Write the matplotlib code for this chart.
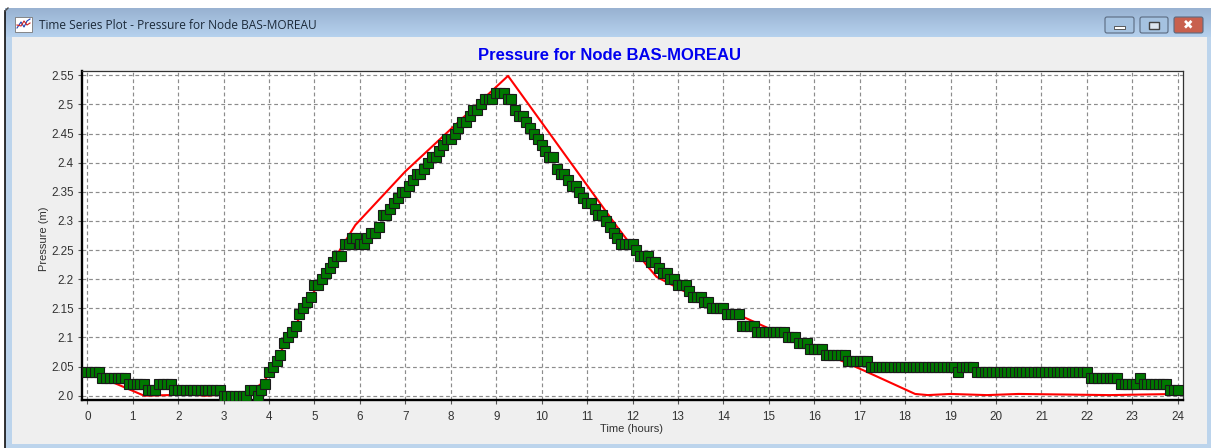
import numpy as np
import matplotlib
matplotlib.use("Agg")
import matplotlib.pyplot as plt
from matplotlib.patches import Rectangle, FancyBboxPatch

# simulated pressure, one row per hour, 5 minute steps
simulated = [
    2.04, 2.04, 2.04, 2.04, 2.03, 2.03, 2.03, 2.03, 2.03, 2.03, 2.03, 2.02,
    2.02, 2.02, 2.02, 2.02, 2.01, 2.01, 2.01, 2.02, 2.02, 2.02, 2.02, 2.01,
    2.01, 2.01, 2.01, 2.01, 2.01, 2.01, 2.01, 2.01, 2.01, 2.01, 2.01, 2.01,
    2.00, 2.00, 2.00, 2.00, 2.00, 2.00, 2.00, 2.01, 2.01, 2.00, 2.01, 2.02,
    2.04, 2.05, 2.06, 2.07, 2.09, 2.10, 2.11, 2.12, 2.14, 2.15, 2.16, 2.17,
    2.19, 2.19, 2.20, 2.21, 2.22, 2.23, 2.24, 2.24, 2.26, 2.26, 2.27, 2.27,
    2.26, 2.26, 2.27, 2.28, 2.28, 2.29, 2.31, 2.31, 2.32, 2.33, 2.34, 2.35,
    2.35, 2.36, 2.37, 2.38, 2.38, 2.39, 2.40, 2.41, 2.41, 2.42, 2.43, 2.44,
    2.44, 2.45, 2.46, 2.47, 2.47, 2.48, 2.49, 2.49, 2.50, 2.51, 2.51, 2.51,
    2.52, 2.52, 2.52, 2.51, 2.51, 2.49, 2.48, 2.48, 2.47, 2.46, 2.45, 2.44,
    2.43, 2.42, 2.41, 2.41, 2.39, 2.38, 2.38, 2.37, 2.36, 2.36, 2.35, 2.34,
    2.33, 2.33, 2.32, 2.31, 2.31, 2.30, 2.29, 2.28, 2.27, 2.26, 2.26, 2.26,
    2.26, 2.25, 2.24, 2.24, 2.24, 2.23, 2.23, 2.22, 2.21, 2.21, 2.20, 2.20,
    2.19, 2.19, 2.19, 2.18, 2.17, 2.17, 2.17, 2.16, 2.16, 2.15, 2.15, 2.15,
    2.15, 2.14, 2.14, 2.14, 2.14, 2.12, 2.12, 2.12, 2.12, 2.11, 2.11, 2.11,
    2.11, 2.11, 2.11, 2.11, 2.11, 2.10, 2.10, 2.10, 2.09, 2.09, 2.09, 2.08,
    2.08, 2.08, 2.08, 2.07, 2.07, 2.07, 2.07, 2.07, 2.07, 2.06, 2.06, 2.06,
    2.06, 2.06, 2.06, 2.05, 2.05, 2.05, 2.05, 2.05, 2.05, 2.05, 2.05, 2.05,
    2.05, 2.05, 2.05, 2.05, 2.05, 2.05, 2.05, 2.05, 2.05, 2.05, 2.05, 2.05,
    2.05, 2.05, 2.04, 2.05, 2.05, 2.05, 2.05, 2.04, 2.04, 2.04, 2.04, 2.04,
    2.04, 2.04, 2.04, 2.04, 2.04, 2.04, 2.04, 2.04, 2.04, 2.04, 2.04, 2.04,
    2.04, 2.04, 2.04, 2.04, 2.04, 2.04, 2.04, 2.04, 2.04, 2.04, 2.04, 2.04,
    2.04, 2.03, 2.03, 2.03, 2.03, 2.03, 2.03, 2.03, 2.03, 2.02, 2.02, 2.02,
    2.02, 2.02, 2.03, 2.02, 2.02, 2.02, 2.02, 2.02, 2.02, 2.02, 2.01, 2.01,
    2.01,
]
sim_hours = np.arange(len(simulated)) / 12

# observed pressure (red line)
obs_hours = [0, 0.5, 1.25, 2.3, 2.6, 3.0, 3.5, 3.9, 5.0, 5.9, 7.0, 9.26, 11.66, 12.3, 12.53,
             12.9, 13.5, 14.5, 14.87, 16.57, 17.07, 18.22, 18.5, 19.0, 19.8, 20.5, 22.5, 24]
obs_pressure = [2.04, 2.025, 2.0, 2.002, 2.0, 2.002, 2.0, 2.025, 2.18, 2.293, 2.385, 2.549, 2.29, 2.225, 2.204,
                2.189, 2.165, 2.133, 2.12, 2.061, 2.044, 2.003, 2.001, 2.003, 2.001, 2.003, 2.001, 2.003]

x_ticks = list(range(25))
y_ticks = [2.0, 2.05, 2.1, 2.15, 2.2, 2.25, 2.3, 2.35, 2.4, 2.45, 2.5, 2.55]
y_tick_labels = ['2.0', '2.05', '2.1', '2.15', '2.2', '2.25', '2.3', '2.35', '2.4', '2.45', '2.5', '2.55']

plt.rcParams['font.family'] = ['Liberation Sans', 'DejaVu Sans']

W, H = 1211, 448
fig = plt.figure(figsize=(W / 100, H / 100), dpi=100, facecolor='white')

# window frame, in pixel coordinates
bg = fig.add_axes([0, 0, 1, 1])
bg.set_xlim(0, W)
bg.set_ylim(H, 0)
bg.axis('off')

grad = np.linspace(0, 1, 30)[:, None, None]
top = np.array([0.60, 0.70, 0.82])
bottom = np.array([0.71, 0.82, 0.93])
bar = top + (bottom - top) * grad
bg.imshow(bar, extent=(5, 1211, 37, 8), aspect='auto', zorder=1)
bg.set_xlim(0, W)
bg.set_ylim(H, 0)
bg.add_patch(Rectangle((5, 37), 1206, 411, fc='#BCD4EC', ec='none', zorder=1))
bg.add_patch(Rectangle((12, 37), 1195, 407, fc='#EFEFEF', ec='none', zorder=2))
bg.plot([5, 5], [11, 448], color='#101010', lw=1.2, zorder=3)
bg.plot([5, 8], [11, 8], color='#505050', lw=1, zorder=3)

# title bar icon
bg.add_patch(Rectangle((15, 17), 17, 15, fc='white', ec='#777777', lw=0.6, zorder=3))
bg.plot([17, 21, 24, 27, 30], [28, 22, 27, 21, 19], color='#2040b0', lw=0.8, zorder=4)
bg.plot([17, 21, 24, 27, 30], [25, 26, 21, 25, 23], color='#d02020', lw=0.8, zorder=4)
bg.text(39, 25.5, 'Time Series Plot - Pressure for Node BAS-MOREAU', fontsize=8.6, color='#1c2a3a',
        family='Open Sans', ha='left', va='center', zorder=4)

# window buttons
for x0, x1, col in [(1104, 1135, '#A5C2E0'), (1139, 1169, '#A5C2E0'), (1173, 1204, '#C8604E')]:
    bg.add_patch(FancyBboxPatch((x0 + 1, 17), x1 - x0 - 2, 16, boxstyle='round,pad=0,rounding_size=2',
                                fc=col, ec='#5a6a80', lw=0.8, zorder=3))
bg.add_patch(Rectangle((1114, 26.5), 11, 3, fc='white', ec='#444444', lw=0.6, zorder=4))
bg.add_patch(Rectangle((1149, 22), 10, 7, fc='#dde6f0', ec='#444444', lw=1.0, zorder=4))
bg.text(1188.5, 25, '\u2716', fontsize=9, color='white', family='DejaVu Sans', ha='center', va='center', zorder=4)

bg.text(610, 55, 'Pressure for Node BAS-MOREAU', fontsize=12, fontweight='bold', color='#0000F0',
        ha='center', va='center', zorder=4)

# plot area
ax = fig.add_axes([82 / W, 1 - 400 / H, (1183 - 82) / W, (400 - 71) / H], facecolor='white')
ax.plot(obs_hours, obs_pressure, color='#FF0000', lw=1.5, zorder=3)
ax.plot(sim_hours, simulated, ls='none', marker='s', ms=6.6, mfc='#007800', mec='#1a1a1a', mew=0.8, zorder=4)

ax.set_xlim(-0.117, 24.117)
ax.set_ylim(1.9926, 2.5574)
ax.set_xticks(x_ticks)
ax.set_yticks(y_ticks)
ax.set_yticklabels(y_tick_labels)
ax.tick_params(axis='both', labelsize=8.4, length=3, width=0.8, color='#555555', labelcolor='#333333', pad=3)
ax.tick_params(axis='x', pad=5)
ax.grid(True, color='#8c8c8c', lw=0.85, ls=(0, (3.2, 2.4)), zorder=1)
ax.set_axisbelow(True)

for s in ['left', 'bottom']:
    ax.spines[s].set_linewidth(1.7)
    ax.spines[s].set_color('black')
for s in ['top', 'right']:
    ax.spines[s].set_linewidth(0.9)
    ax.spines[s].set_color('#333333')

bg.text(631, 429, 'Time (hours)', fontsize=8, color='#333333', ha='center', va='center', zorder=4)
bg.text(44, 239, 'Pressure (m)', fontsize=8, color='#333333', rotation=90, ha='center', va='center', zorder=4)

fig.savefig('out.png', dpi=100)
